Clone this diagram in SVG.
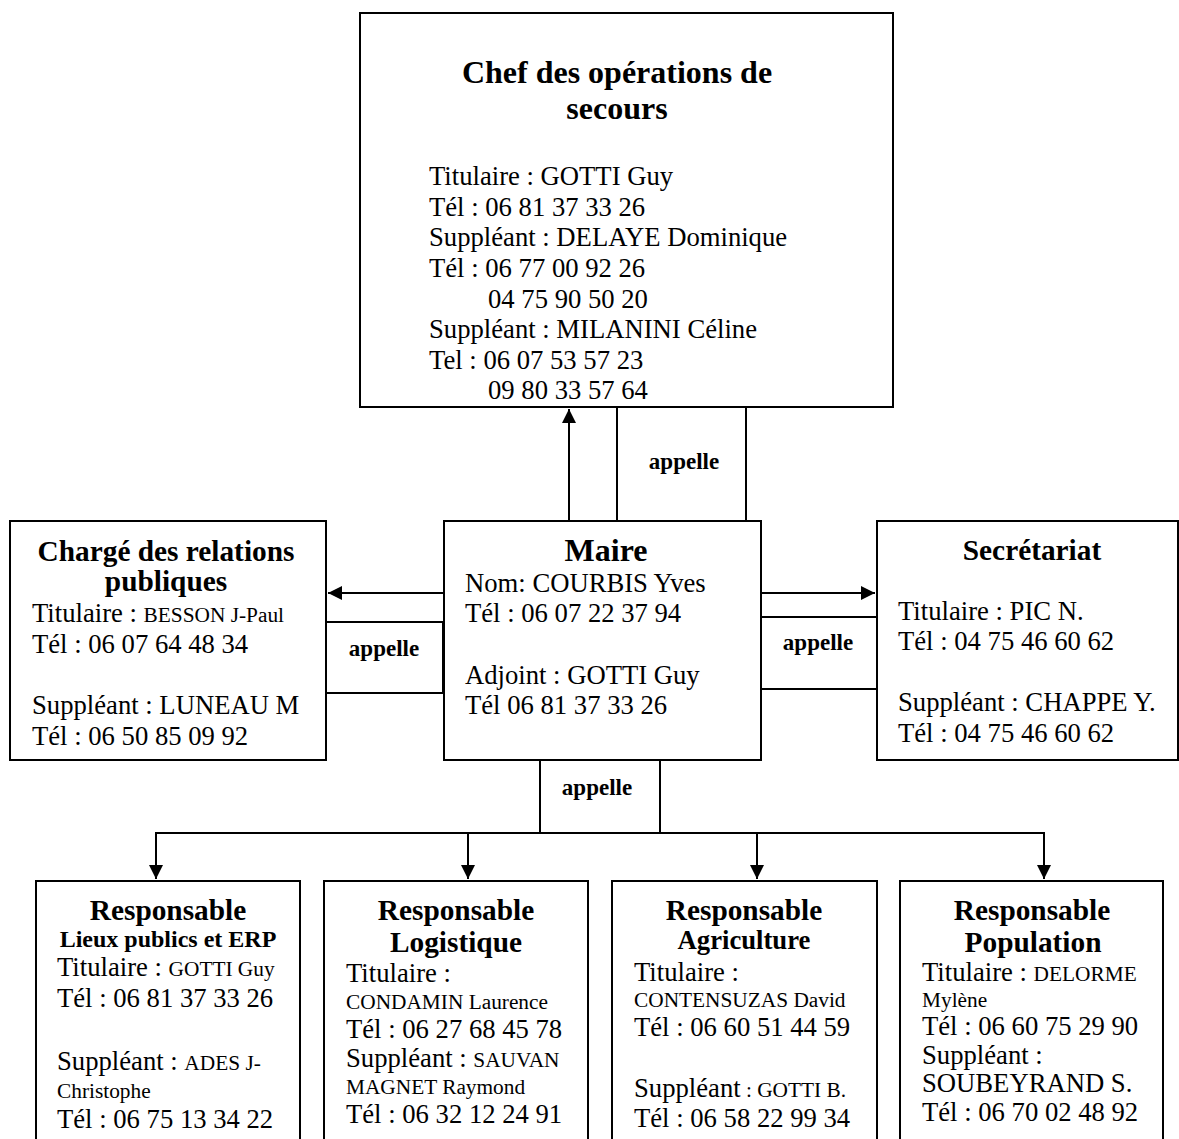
<svg xmlns="http://www.w3.org/2000/svg" width="1179" height="1139" viewBox="0 0 1179 1139">
<style>
text{font-family:"Liberation Serif","Times New Roman",serif;fill:#000}
.b{font-size:26.67px}
.s{font-size:21.33px}
.h{font-size:29.33px;font-weight:bold;text-anchor:middle}
.hx{font-size:32px;font-weight:bold;text-anchor:middle}
.h2{font-size:24px;font-weight:bold;text-anchor:middle}
.h3{font-size:26.67px;font-weight:bold;text-anchor:middle}
.a{font-size:23px;font-weight:bold;text-anchor:middle}
.box{fill:#fff;stroke:#000;stroke-width:2}
.ln{fill:none;stroke:#000;stroke-width:2}
</style>
<defs>
<marker id="ah" viewBox="0 0 10 10" refX="10" refY="5" markerWidth="7" markerHeight="7" markerUnits="strokeWidth" orient="auto">
<path d="M0,0 L10,5 L0,10 Z" fill="#000"/>
</marker>
</defs>

<g id="connectors">
<line class="ln" x1="569" y1="522" x2="569" y2="409" marker-end="url(#ah)"/>
<line class="ln" x1="617" y1="407" x2="617" y2="521"/>
<line class="ln" x1="746" y1="407" x2="746" y2="521"/>
<text class="a" x="684" y="469">appelle</text>
<line class="ln" x1="443" y1="593" x2="328" y2="593" marker-end="url(#ah)"/>
<rect class="ln" x="324" y="622" width="119" height="71"/>
<text class="a" x="384" y="656">appelle</text>
<line class="ln" x1="756" y1="593" x2="875" y2="593" marker-end="url(#ah)"/>
<rect class="ln" x="761" y="617" width="116" height="72"/>
<text class="a" x="818" y="650">appelle</text>
<line class="ln" x1="540" y1="760" x2="540" y2="833"/>
<line class="ln" x1="660" y1="760" x2="660" y2="833"/>
<text class="a" x="597" y="795">appelle</text>
<line class="ln" x1="155" y1="833" x2="1045" y2="833"/>
<line class="ln" x1="156" y1="833" x2="156" y2="879" marker-end="url(#ah)"/>
<line class="ln" x1="468" y1="833" x2="468" y2="879" marker-end="url(#ah)"/>
<line class="ln" x1="757" y1="833" x2="757" y2="879" marker-end="url(#ah)"/>
<line class="ln" x1="1044" y1="833" x2="1044" y2="879" marker-end="url(#ah)"/>
</g>

<g id="chef">
<rect class="box" x="360" y="13" width="533" height="394"/>
<text class="hx" x="617" y="83">Chef des opérations de</text>
<text class="hx" x="617" y="119">secours</text>
<text class="b" x="429" y="185">Titulaire : GOTTI Guy</text>
<text class="b" x="429" y="216">Tél : 06 81 37 33 26</text>
<text class="b" x="429" y="246">Suppléant : DELAYE Dominique</text>
<text class="b" x="429" y="277">Tél : 06 77 00 92 26</text>
<text class="b" x="488" y="308">04 75 90 50 20</text>
<text class="b" x="429" y="338">Suppléant : MILANINI Céline</text>
<text class="b" x="429" y="369">Tel : 06 07 53 57 23</text>
<text class="b" x="488" y="399">09 80 33 57 64</text>
</g>

<g id="maire">
<rect class="box" x="444" y="521" width="317" height="239"/>
<text class="hx" x="606" y="561">Maire</text>
<text class="b" x="465" y="592">Nom: COURBIS Yves</text>
<text class="b" x="465" y="622">Tél : 06 07 22 37 94</text>
<text class="b" x="465" y="684">Adjoint : GOTTI Guy</text>
<text class="b" x="465" y="714">Tél 06 81 37 33 26</text>
</g>

<g id="relations">
<rect class="box" x="10" y="521" width="316" height="239"/>
<text class="h" x="166" y="561">Chargé des relations</text>
<text class="h" x="166" y="591">publiques</text>
<text class="b" x="32" y="622">Titulaire : <tspan class="s">BESSON J-Paul</tspan></text>
<text class="b" x="32" y="653">Tél : 06 07 64 48 34</text>
<text class="b" x="32" y="714">Suppléant : LUNEAU M</text>
<text class="b" x="32" y="745">Tél : 06 50 85 09 92</text>
</g>

<g id="secretariat">
<rect class="box" x="877" y="521" width="301" height="239"/>
<text class="h" x="1032" y="560">Secrétariat</text>
<text class="b" x="898" y="620">Titulaire : PIC N.</text>
<text class="b" x="898" y="650">Tél : 04 75 46 60 62</text>
<text class="b" x="898" y="711">Suppléant : CHAPPE Y.</text>
<text class="b" x="898" y="742">Tél : 04 75 46 60 62</text>
</g>

<g id="lieux">
<rect class="box" x="36" y="881" width="264" height="270"/>
<text class="h" x="168" y="920">Responsable</text>
<text class="h2" x="168" y="947">Lieux publics et ERP</text>
<text class="b" x="57" y="976">Titulaire : <tspan class="s">GOTTI Guy</tspan></text>
<text class="b" x="57" y="1007">Tél : 06 81 37 33 26</text>
<text class="b" x="57" y="1070">Suppléant : <tspan class="s">ADES J-</tspan></text>
<text class="s" x="57" y="1098">Christophe</text>
<text class="b" x="57" y="1128">Tél : 06 75 13 34 22</text>
</g>

<g id="logistique">
<rect class="box" x="324" y="881" width="264" height="270"/>
<text class="h" x="456" y="920">Responsable</text>
<text class="h" x="456" y="952">Logistique</text>
<text class="b" x="346" y="982">Titulaire :</text>
<text class="s" x="346" y="1009">CONDAMIN Laurence</text>
<text class="b" x="346" y="1038">Tél : 06 27 68 45 78</text>
<text class="b" x="346" y="1067">Suppléant : <tspan class="s">SAUVAN</tspan></text>
<text class="s" x="346" y="1094">MAGNET Raymond</text>
<text class="b" x="346" y="1123">Tél : 06 32 12 24 91</text>
</g>

<g id="agriculture">
<rect class="box" x="612" y="881" width="265" height="270"/>
<text class="h" x="744" y="920">Responsable</text>
<text class="h3" x="744" y="949">Agriculture</text>
<text class="b" x="634" y="981">Titulaire :</text>
<text class="s" x="634" y="1007">CONTENSUZAS David</text>
<text class="b" x="634" y="1036">Tél : 06 60 51 44 59</text>
<text class="b" x="634" y="1097">Suppléant<tspan class="s"> : GOTTI B.</tspan></text>
<text class="b" x="634" y="1127">Tél : 06 58 22 99 34</text>
</g>

<g id="population">
<rect class="box" x="900" y="881" width="263" height="270"/>
<text class="h" x="1032" y="920">Responsable</text>
<text class="h" x="1033" y="952">Population</text>
<text class="b" x="922" y="981">Titulaire : <tspan class="s">DELORME</tspan></text>
<text class="s" x="922" y="1007">Mylène</text>
<text class="b" x="922" y="1035">Tél : 06 60 75 29 90</text>
<text class="b" x="922" y="1064">Suppléant :</text>
<text class="b" x="922" y="1092">SOUBEYRAND S.</text>
<text class="b" x="922" y="1121">Tél : 06 70 02 48 92</text>
</g>
</svg>
